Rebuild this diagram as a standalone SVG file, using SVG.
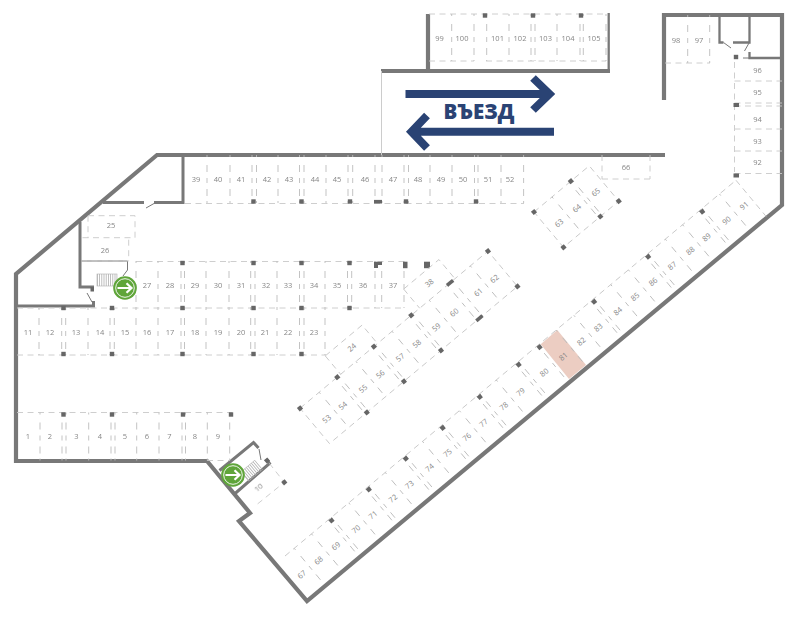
<svg xmlns="http://www.w3.org/2000/svg" width="800" height="617" viewBox="0 0 800 617">
<style>
text{font-family:"Open Sans","Liberation Sans",sans-serif}
.l{font-size:7.5px;fill:#858585;text-anchor:middle;dominant-baseline:central}
.w{fill:none;stroke:#787878;stroke-width:4.2;stroke-linejoin:miter}
.i{fill:none;stroke:#787878;stroke-width:3;stroke-linejoin:miter}
.n{fill:none;stroke:#787878;stroke-width:2.3}
.t{fill:none;stroke:#787878;stroke-width:1}
.e{fill:none;stroke:#c8c8c8;stroke-width:.9;stroke-dasharray:6 4.5}
.d{fill:none;stroke:#bcbcbc;stroke-width:.9;stroke-dasharray:2 8 7 6 5 6 7 5 2}
.p{fill:#666}
.a{fill:none;stroke:#2a4374;stroke-width:8}
.s{fill:none;stroke:#b0b0b0;stroke-width:12;stroke-dasharray:.8 1.4}
.so{fill:none;stroke:#b0b0b0;stroke-width:.6}
.g{opacity:.99}
</style>
<defs><rect id="p" class="p" x="-2.200" y="-2.200" width="4.400" height="4.400"/>
<rect id="q" class="p" x="-4" y="-1.800" width="8" height="3.600"/>
<g id="g"><circle r="11.800" fill="#5fa53a"/><circle r="9.300" fill="none" stroke="#fff" stroke-width=".9"/><path d="M-7.500 0H6M1.500-4.800 6.500 0 1.500 4.800" fill="none" stroke="#fff" stroke-width="2.200"/></g></defs>

<g id="highlight"><polygon points="540.7,344.3 557.3,330 586,365 569,379" fill="#eccdc2"/></g>

<g id="walls">
<path class="w" d="M665 155H157L16 274V461H207L250 513 239 521 307 601 782 205V15H664V100"/>
<path class="w" d="M428 14V71M381 71H610"/>
<path class="n" d="M608.700 13V71"/>
<path d="M381.500 71V155" fill="none" stroke="#ccc" stroke-width="1"/>
<path class="i" d="M183 155V202.500H154M144 202.500H103M80 222V287H94M16 306H93.500V301"/>
<rect class="p" x="90.500" y="287" width="3.500" height="4.500"/>
<path class="t" d="M146 208 154 203.500M87 293 92 302M80 261H127.500V270L123 276"/>
<path class="i" d="M219.500 470.500 253.500 442.500 258.500 448M234.500 494 269.500 463.500 266.500 459"/>
<path class="t" d="M259 449 261 460"/>
<path class="n" d="M719.500 15V42.500H723.500M749.500 15V42.500H733"/>
<path class="t" d="M723.500 42.500 731 48M749 43 744.500 51M743 58H749"/>
<path class="n" d="M749.500 52V58H782"/>
</g>

<g id="arrows">
<path class="a" d="M405.500 94H550M533 78 549.500 94 533 110M554 131.700H411M427 115.500 411.500 131.700 427 148"/>
<text x="479" y="119" font-size="20.500" font-weight="800" fill="#2a4374" text-anchor="middle">ВЪЕЗД</text>
</g>

<g id="stalls">
<path class="e" d="M185 203.500H524M136 261.500H404M17 308H404M17 355H326M17 412.500H232M207 460.500H230M429 61H474M486 61H606M429 14H606M665 63H710M734.500 81H782M734.500 103H782M734.500 106H782M734.500 129H782M734.500 151H782M734.500 173.500H782M734.500 62V172M602 179H650M88 215.700H135V237.700H81M88 215.700V238M81 261H128.700V238"/>
<path class="d" d="M207 155v48M230 155v48M252 155v48M256.500 155v48M278 155v48M299.500 155v48M304 155v48M326 155v48M348 155v48M352.700 155v48M375 155v48M382 155v48M404 155v48M408.500 155v48M430 155v48M452 155v48M474.500 155v48M478 155v48M501 155v48M523.600 155v48"/>
<path class="d" d="M136 261v47M158 261v47M181 261v47M184.500 261v47M206 261v47M229 261v47M250.700 261v47M255 261v47M277 261v47M299.500 261v47M304 261v47M325 261v47M347.500 261v47M351.700 261v47M375 261v47M381.700 261v47M404 261v47"/>
<path class="d" d="M39 308v47M61.700 308v47M65.700 308v47M88 308v47M110 308v47M114.300 308v47M136 308v47M158 308v47M181 308v47M184.500 308v47M206 308v47M229 308v47M250.700 308v47M255 308v47M277 308v47M299.500 308v47M304 308v47M325 308v47"/>
<path class="d" d="M40 412.500v48M62 412.500v48M66 412.500v48M88.700 412.500v48M111 412.500v48M115 412.500v48M136.700 412.500v48M159 412.500v48M182 412.500v48M185.500 412.500v48M207.300 412.500v48M229.700 412.500v48"/>
<path class="d" d="M451.700 14v47M474 14v47M486.700 14v47M509 14v47M531 14v47M535 14v47M557 14v47M580 14v47M583.300 14v47M606 14v47"/>
<path class="d" d="M687.700 15v48M709.700 15v48"/>
<path class="e" d="M650 155V179M602 155V179"/>
<use href="#p" x="253.500" y="201.500"/><use href="#p" x="301.500" y="201.500"/><use href="#p" x="350" y="201.500"/><use href="#q" x="378" y="201.700"/><use href="#p" x="406" y="201.500"/><use href="#p" x="476" y="201.500"/>
<use href="#p" x="182.500" y="263"/><use href="#p" x="253.500" y="263"/><use href="#p" x="301.500" y="263"/><use href="#p" x="349.500" y="263"/>
<path class="p" d="M374 261.700H382V265H378V268H374Z"/><rect class="p" x="403" y="261.700" width="4.500" height="6.500"/><rect class="p" x="424" y="261.700" width="6" height="6.500"/>
<use href="#p" x="63.500" y="308"/><use href="#p" x="112" y="308"/><use href="#p" x="182.500" y="308"/><use href="#p" x="253.500" y="308"/><use href="#p" x="301.500" y="308"/><use href="#p" x="349.500" y="308"/>
<use href="#p" x="63.500" y="354"/><use href="#p" x="112" y="354"/><use href="#p" x="182.500" y="354"/><use href="#p" x="253.500" y="354"/><use href="#p" x="301.500" y="354"/>
<use href="#p" x="63.500" y="414.500"/><use href="#p" x="112" y="414.500"/><use href="#p" x="183" y="414.500"/><use href="#p" x="231" y="414.500"/>
<use href="#p" x="485" y="15.500"/><use href="#p" x="533" y="15.500"/><use href="#p" x="581" y="15.500"/>
<use href="#p" x="736" y="57"/><rect class="p" x="733.500" y="103" width="5.500" height="4"/><rect class="p" x="733.500" y="173.500" width="5.500" height="4"/>

<g transform="translate(285 556) rotate(-39.800)">
<path class="e" d="M0 0H587M587 0V47"/>
<path class="d" d="M12 0v46M34.500 0v46M56.500 0v46M60.500 0v46M83 0v46M105 0v46M109 0v46M130.500 0v46M153 0v46M157 0v46M179 0v46M201 0v46M205 0v46M227 0v46M249.500 0v46M253.500 0v46M275 0v46M300 0v46M304 0v46M329 0v46M353 0v46M376 0v46M398 0v46M402 0v46M424 0v46M447 0v46M468.600 0v46M472.600 0v46M495 0v46M517.500 0v46M539 0v46M543 0v46M565.500 0v46"/>
<use href="#p" x="58.500" y="2.500"/><use href="#p" x="107" y="2.500"/><use href="#p" x="155.200" y="2.500"/><use href="#p" x="203.200" y="2.500"/><use href="#p" x="251.500" y="2.500"/><use href="#p" x="302" y="2.500"/><use href="#p" x="329.300" y="2.500"/><use href="#p" x="400.300" y="2.500"/><use href="#p" x="470.600" y="2.500"/><use href="#p" x="541" y="2.500"/>
<g class="g"><text class="l" x="1.100" y="24.500">67</text><text class="l" x="23" y="24.500">68</text><text class="l" x="45.600" y="24.500">69</text><text class="l" x="71.800" y="24.500">70</text><text class="l" x="93.800" y="24.500">71</text><text class="l" x="119.800" y="24.500">72</text><text class="l" x="141.300" y="24.500">73</text><text class="l" x="167.600" y="24.500">74</text><text class="l" x="190.800" y="24.500">75</text><text class="l" x="215.900" y="24.500">76</text><text class="l" x="237.800" y="24.500">77</text><text class="l" x="264" y="24.500">78</text><text class="l" x="286" y="24.500">79</text><text class="l" x="316.700" y="24.500">80</text><text class="l" x="341.500" y="24.500">81</text><text class="l" x="364.900" y="24.500">82</text><text class="l" x="387" y="24.500">83</text><text class="l" x="412.400" y="24.500">84</text><text class="l" x="435" y="24.500">85</text><text class="l" x="458.500" y="24.500">86</text><text class="l" x="483.300" y="24.500">87</text><text class="l" x="506.800" y="24.500">88</text><text class="l" x="528" y="24.500">89</text><text class="l" x="554" y="24.500">90</text><text class="l" x="577" y="24.500">91</text></g>
</g>

<g transform="translate(300 408.300) rotate(-39.900)">
<path class="e" d="M0 0H245V46H0ZM53-24H101V0M53-24V0M156-25H202V0M156-25V0"/>
<path class="d" d="M25 0v46M46.500 0v46M50.500 0v46M73 0v46M94.500 0v46M98.500 0v46M120 0v46M143 0v46M147 0v46M168.500 0v46M192 0v46M199 0v46M222 0v46"/>
<use href="#p" x="0" y="0"/><use href="#p" x="48.500" y="0"/><use href="#p" x="96.300" y="0"/><use href="#p" x="145" y="0"/><use href="#q" x="195.600" y="0"/><use href="#p" x="245" y="0"/>
<use href="#p" x="48.600" y="46"/><use href="#p" x="97" y="46"/><use href="#p" x="145.300" y="46"/><use href="#q" x="195.400" y="46"/><use href="#p" x="245" y="46"/>
<g class="g"><text class="l" x="13.600" y="25">53</text><text class="l" x="34.500" y="25">54</text><text class="l" x="60.900" y="25">55</text><text class="l" x="83.400" y="25">56</text><text class="l" x="109.400" y="25">57</text><text class="l" x="131.200" y="25">58</text><text class="l" x="156.600" y="25">59</text><text class="l" x="179.800" y="25">60</text><text class="l" x="211.200" y="25">61</text><text class="l" x="232.300" y="25">62</text>
<text class="l" x="78.800" y="-13.700">24</text><text class="l" x="179.700" y="-13.500">38</text></g>
</g>

<g transform="translate(534 212) rotate(-39.900)">
<path class="e" d="M0 0H72V46H0Z"/>
<path class="d" d="M23.500 0v46M46 0v46M50 0v46"/>
<use href="#p" x="0" y="0"/><use href="#p" x="48" y="0"/><use href="#p" x="48" y="46"/><use href="#p" x="72" y="46"/><use href="#p" x="0" y="46"/>
<g class="g"><text class="l" x="12.300" y="24.200">63</text><text class="l" x="35.200" y="24.200">64</text><text class="l" x="60.200" y="24.200">65</text></g>
</g>

<path class="e" d="M269.300 463.300 284.300 482.300 255 506"/>
<use href="#p" transform="translate(284.300 482.300) rotate(-40)"/>
<use href="#p" transform="translate(267 460.500) rotate(-40)"/>
</g>

<g id="labels" class="g">
<text class="l" x="196" y="179">39</text><text class="l" x="218" y="179">40</text><text class="l" x="241" y="179">41</text><text class="l" x="267" y="179">42</text><text class="l" x="289" y="179">43</text><text class="l" x="315" y="179">44</text><text class="l" x="337" y="179">45</text><text class="l" x="365" y="179">46</text><text class="l" x="393" y="179">47</text><text class="l" x="418" y="179">48</text><text class="l" x="441" y="179">49</text><text class="l" x="463" y="179">50</text><text class="l" x="488" y="179">51</text><text class="l" x="510" y="179">52</text>
<text class="l" x="147" y="285">27</text><text class="l" x="170" y="285">28</text><text class="l" x="195" y="285">29</text><text class="l" x="218" y="285">30</text><text class="l" x="241" y="285">31</text><text class="l" x="266" y="285">32</text><text class="l" x="288" y="285">33</text><text class="l" x="314" y="285">34</text><text class="l" x="337" y="285">35</text><text class="l" x="363" y="285">36</text><text class="l" x="393" y="285">37</text>
<text class="l" x="28" y="332">11</text><text class="l" x="50" y="332">12</text><text class="l" x="76" y="332">13</text><text class="l" x="100" y="332">14</text><text class="l" x="125" y="332">15</text><text class="l" x="147" y="332">16</text><text class="l" x="170" y="332">17</text><text class="l" x="195" y="332">18</text><text class="l" x="218" y="332">19</text><text class="l" x="241" y="332">20</text><text class="l" x="265" y="332">21</text><text class="l" x="288" y="332">22</text><text class="l" x="314" y="332">23</text>
<text class="l" x="28" y="436">1</text><text class="l" x="50" y="436">2</text><text class="l" x="76.500" y="436">3</text><text class="l" x="100" y="436">4</text><text class="l" x="125" y="436">5</text><text class="l" x="147" y="436">6</text><text class="l" x="169.500" y="436">7</text><text class="l" x="195" y="436">8</text><text class="l" x="218" y="436">9</text>
<text class="l" x="439.500" y="38">99</text><text class="l" x="462" y="38">100</text><text class="l" x="497.500" y="38">101</text><text class="l" x="520" y="38">102</text><text class="l" x="545.500" y="38">103</text><text class="l" x="568" y="38">104</text><text class="l" x="594" y="38">105</text>
<text class="l" x="676" y="40">98</text><text class="l" x="699" y="40">97</text>
<text class="l" x="757.500" y="70">96</text><text class="l" x="757.500" y="92">95</text><text class="l" x="757.500" y="119">94</text><text class="l" x="757.500" y="141">93</text><text class="l" x="757.500" y="162">92</text>
<text class="l" x="626" y="167">66</text><text class="l" x="111" y="225">25</text><text class="l" x="105" y="249.500">26</text>
<text class="l" transform="translate(258.300 487.300) rotate(-40)">10</text>
</g>

<g id="stairs">
<path class="s" d="M97 280H117"/><rect class="so" x="97" y="274" width="20" height="12"/>
<g transform="translate(251.700 470.700) rotate(-40)"><path class="s" d="M-9 0H9"/><rect class="so" x="-9" y="-6" width="18" height="12"/></g>
</g>
<g id="exit1"><use href="#g" x="125" y="288"/></g>
<g id="exit2"><use href="#g" x="233" y="475"/></g>
</svg>
